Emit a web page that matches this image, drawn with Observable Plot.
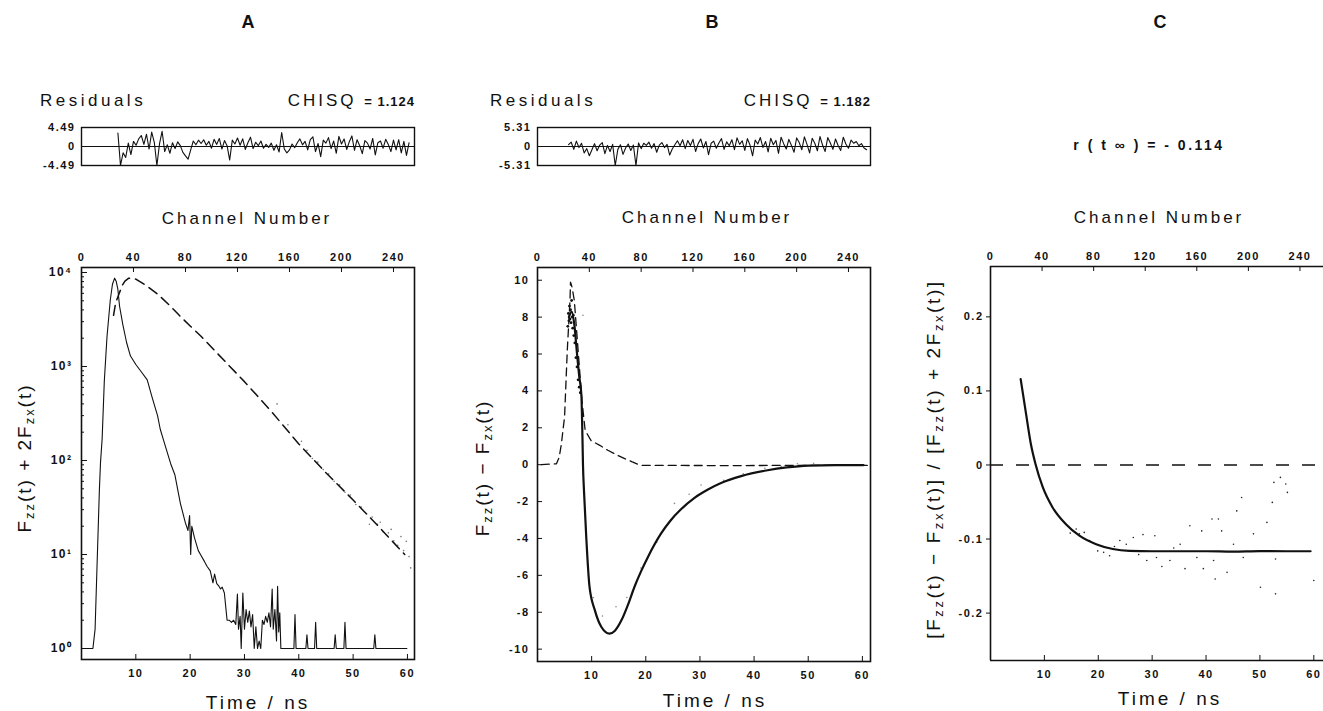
<!DOCTYPE html>
<html><head><meta charset="utf-8">
<script src="https://cdn.jsdelivr.net/npm/d3@7"></script>
<script src="https://cdn.jsdelivr.net/npm/@observablehq/plot@0.6"></script>
<style>
body{margin:0;background:#fff;}
#fig{position:relative;width:1323px;height:711px;overflow:hidden;font-family:"Liberation Sans",Arial,Helvetica,sans-serif;color:#111;background:#fff;}
sub{font-size:0.68em;vertical-align:-0.3em;line-height:0;}
</style></head>
<body><div id="fig"></div>
<script>
// ---------- data ----------
const panelTitles = ["A", "B", "C"];
const chisqA = "1.124", chisqB = "1.182";
const rInf = "- 0.114";
const timeTicks = [10, 20, 30, 40, 50, 60];
const channelTicks = [0, 40, 80, 120, 160, 200, 240];
const NS_PER_CHANNEL = 0.2393;
const logTicks = [1, 10, 100, 1000, 10000];
const logTickLabels = ["10⁰", "10¹", "10²", "10³", "10⁴"];
const logMinorMult = [2, 3, 4, 5, 6, 7, 8, 9];
const bTicks = [-10, -8, -6, -4, -2, 0, 2, 4, 6, 8, 10];
const cTicks = [-0.2, -0.1, 0, 0.1, 0.2];
const resTicksA = [-4.49, 0, 4.49];
const resTicksB = [-5.31, 0, 5.31];

// Panel A: lamp profile (solid) [time ns, counts]
const aLamp = [[0.2,1],[2.1,1],[2.5,1.6],[2.9,9],[3.3,50],[3.5,95],[3.8,170],[4.2,700],[4.7,2100],[5.3,5100],[5.7,7500],[6.1,8700],[6.4,8000],[6.7,6600],[7.0,4400],[7.6,2800],[8.3,1800],[9.0,1300],[10.0,1050],[11.0,880],[12.1,720],[13.0,470],[14.0,300],[14.5,215],[15.1,165],[16.4,93],[17.2,70],[18.2,35],[19.1,22],[19.6,18],[19.9,26],[20.1,10],[20.3,20],[20.8,15],[21.5,11],[21.9,10],[22.6,8.5],[23.1,7.5],[23.7,6.7],[24.2,5.0],[24.5,6.2],[24.9,4.9],[25.3,4.6],[25.6,4.3],[25.9,4.5],[26.3,3.9],[26.8,2.0],[27.2,2.0],[27.6,1.9],[28.0,2.0],[28.4,1.8],[28.7,3.8],[28.9,1.6],[29.2,2.2],[29.4,1.0],[29.7,3.9],[30.0,1.6],[30.3,2.6],[30.6,1.9],[30.9,2.5],[31.2,1.7],[31.5,2.3],[31.8,1.0],[32.1,1.7],[32.4,1.0],[32.7,1.2],[33.0,1.0],[33.3,2.0],[33.6,1.8],[33.9,2.2],[34.2,1.9],[34.5,2.4],[34.8,1.7],[35.1,4.3],[35.3,1.6],[35.6,2.6],[35.9,1.2],[36.1,4.6],[36.3,1.5],[36.5,2.4],[36.7,1.0],[39.1,1],[39.3,2.3],[39.5,1],[41.3,1],[41.5,1.4],[41.7,1],[42.9,1],[43.1,1.9],[43.3,1],[46.5,1],[46.7,1.4],[46.9,1],[48.3,1],[48.5,1.9],[48.7,1],[53.8,1],[54.0,1.4],[54.2,1],[59.9,1]];
// Panel A: total fluorescence fit (dashed)
const aFit = [[5.9,3500],[6.3,4800],[6.9,5900],[7.5,7300],[8.0,8100],[8.7,8700],[10.0,8500],[12.0,7200],[14.0,5900],[16.0,4600],[18.0,3500],[20.0,2700],[22.0,2100],[25.0,1380],[30.0,690],[35.0,330],[40.0,150],[45.0,74],[50.0,38],[55.0,19],[59.5,10]];
// Panel A: measured points on the tail
const aDots = [[40.5,160],[41.5,128],[42.5,105],[43.5,96],[44.5,80],[45.5,72],[46.5,60],[47.5,55],[48.5,46],[49.5,43],[50.5,34],[51.5,32],[52.5,27],[53.5,25],[54.5,21],[55.5,17.5],[56.5,17],[57.5,14],[58.2,12.5],[58.8,15.5],[59.3,11],[59.8,13.8],[60.3,9.5],[60.6,7.2],[57,18.5],[55,22],[53,21],[36,400],[38,240]];

// Residuals (channel start, step, values)
const resAStart = 28, resAStep = 2;
const resAValues = [3.2,-4.49,-1.5,-2.6,0.8,-1.9,1.2,0.3,1.8,2.6,0.5,2.9,-0.6,3.4,1.0,-4.49,0.6,3.6,-1.2,0.4,-1.6,0.9,-0.5,1.1,0.2,-1.4,-2.2,-3.0,-0.8,1.3,0.4,1.5,0.7,1.6,0.3,1.2,-0.4,1.7,0.5,1.9,-0.6,1.4,0.2,-3.2,1.5,0.6,2.0,0.3,1.8,-0.7,0.9,2.2,-0.5,1.0,0.2,1.3,-0.4,0.5,-0.2,0.8,-0.9,0.4,-1.3,3.3,-0.6,-1.5,-0.8,0.6,-0.3,0.9,1.8,0.4,1.2,-0.8,1.6,2.3,-1.2,0.7,-2.4,1.5,0.8,2.1,-0.5,1.3,-1.6,2.4,0.6,1.8,-0.7,1.1,2.5,-0.9,1.6,0.2,-1.7,1.4,0.8,-0.6,1.9,-2.0,0.9,1.3,-0.4,1.7,0.5,-1.2,1.5,-0.8,1.6,-1.5,1.2,-2.1,0.9];
const resBStart = 24, resBStep = 2;
const resBValues = [0.5,1.2,-0.8,1.5,-0.3,0.9,-1.8,-0.6,-2.6,-0.9,0.8,-1.2,0.4,1.1,-2.0,0.3,-1.4,0.6,-5.31,-0.8,0.5,-2.2,-0.4,0.7,-1.1,0.4,-5.31,1.0,-0.6,0.9,0.3,1.2,-0.5,0.8,-1.6,0.4,1.1,-0.3,0.6,-2.4,-0.7,0.5,1.6,0.2,1.9,-0.6,1.7,0.3,2.0,-1.4,0.8,2.1,-0.4,1.4,-2.3,0.9,1.5,-0.5,1.0,2.2,-0.8,1.3,0.2,1.9,-0.9,2.4,0.6,1.6,-1.1,2.2,0.4,-2.6,1.8,0.7,2.5,-0.3,1.4,-1.5,2.3,0.5,1.7,-1.9,2.6,0.8,-0.7,2.0,0.3,-1.6,2.4,1.1,-0.9,2.7,0.6,-1.8,2.3,0.9,-1.2,2.8,0.4,-1.4,2.5,1.0,-0.8,2.1,0.3,-1.1,2.6,0.7,-0.5,1.8,0.9,1.4,0.2,0.8,-0.4,-0.9];

// Panel B: lamp-shaped difference (dashed) and fit (solid)
const bDashed = [[0.7,0],[3.5,0.05],[4.0,0.4],[4.4,1.1],[5.0,2.6],[5.5,6.2],[6.0,8.9],[6.1,9.9],[6.4,9.6],[6.8,8.9],[7.5,6.2],[8.2,3.5],[8.8,1.86],[9.9,1.3],[11.5,1.05],[13.0,0.78],[14.5,0.55],[16.1,0.33],[17.5,0.15],[19.1,-0.04],[25,-0.04],[35,-0.05],[45,-0.04],[60.9,-0.04]];
const bFit = [[5.8,8.0],[6.3,8.3],[6.8,7.6],[7.3,6.0],[7.7,4.8],[8.1,3.8],[8.3,1.5],[8.4,0.0],[8.6,-1.5],[9.0,-3.9],[9.6,-6.6],[10.6,-7.9],[11.8,-8.8],[13.3,-9.16],[14.3,-9.0],[15.5,-8.44],[16.7,-7.6],[17.9,-6.63],[19.1,-5.8],[20.4,-5.0],[22.8,-3.74],[24.5,-3.05],[26.5,-2.42],[29.0,-1.80],[31.4,-1.36],[34.0,-0.98],[37.6,-0.62],[42.5,-0.30],[46,-0.15],[50,-0.05],[55,-0.02],[60.2,-0.02]];
const bPeakDots = [[5.6,7.5],[5.7,8.2],[5.8,7.8],[5.9,8.6],[6.0,7.9],[6.1,8.4],[6.2,7.7],[6.3,8.9],[6.4,8.0],[6.5,7.4],[6.6,8.1],[6.7,7.0],[6.9,6.6],[7.1,5.8],[7.3,5.3],[7.5,4.6],[7.7,4.2],[7.9,3.9]];
const bDots = [[8.4,8.1],[10.3,-7.2],[14.5,-7.7],[19.1,-5.6],[25.3,-2.1],[30.2,-1.1],[34.4,-0.85],[12,-8.2],[16.5,-7.2],[22,-4.2],[28,-1.6],[38,-0.5],[42,-0.2],[45,-0.1],[48,0.05],[51,0.08]];

// Panel C: anisotropy fit (solid) and data points
const cFit = [[5.6,0.116],[6.6,0.069],[7.5,0.028],[8.4,0.0],[9.7,-0.030],[11.5,-0.057],[14.0,-0.080],[16.5,-0.0955],[19.6,-0.107],[22.7,-0.1135],[25.8,-0.116],[30,-0.1165],[40,-0.1165],[45,-0.117],[50,-0.1163],[55,-0.1165],[59.4,-0.1165]];
const cDots = [[15.9,-0.0865],[16.5,-0.093],[17.4,-0.091],[18.4,-0.102],[19.9,-0.116],[22.1,-0.1225],[24.0,-0.102],[25.2,-0.107],[26.5,-0.098],[28.3,-0.094],[29.0,-0.129],[30.5,-0.0955],[30.8,-0.125],[31.8,-0.137],[33.3,-0.129],[35.2,-0.107],[36.1,-0.140],[37.0,-0.082],[38.3,-0.125],[39.2,-0.089],[39.5,-0.140],[41.1,-0.073],[41.4,-0.129],[41.7,-0.154],[42.3,-0.073],[42.9,-0.089],[43.9,-0.145],[45.1,-0.107],[45.7,-0.062],[46.6,-0.044],[46.9,-0.125],[48.8,-0.093],[50.1,-0.165],[51.3,-0.0775],[52.3,-0.0505],[52.6,-0.0235],[52.9,-0.127],[52.9,-0.174],[53.8,-0.0168],[54.8,-0.0257],[55.1,-0.037],[60.0,-0.156],[14.8,-0.092],[21,-0.118],[23,-0.110],[27.5,-0.121],[34,-0.112]];

// ---------- helpers ----------
const fig = document.getElementById("fig");
const P = d => d[0], V = d => d[1];
function txt(html, x, y, anchor, css) {
  const d = document.createElement("div");
  d.innerHTML = html;
  const tx = anchor === "start" ? "0" : anchor === "end" ? "-100%" : "-50%";
  d.style.cssText = `position:absolute;left:${x}px;top:${y}px;transform:translate(${tx},-50%);white-space:nowrap;line-height:1;${css || ""}`;
  fig.appendChild(d);
}
function vtxt(html, x, y, css) {
  const d = document.createElement("div");
  d.innerHTML = html;
  d.style.cssText = `position:absolute;left:${x}px;top:${y}px;transform:translate(-50%,-50%) rotate(-90deg);white-space:nowrap;line-height:1;${css || ""}`;
  fig.appendChild(d);
}
function place(el, left, top) {
  el.style.position = "absolute"; el.style.left = left + "px"; el.style.top = top + "px";
  fig.appendChild(el);
}
const style = {fontFamily: '"Liberation Sans", Arial, sans-serif', fontSize: "11px", fontWeight: "bold", letterSpacing: "1.5px", color: "#111", background: "none", overflow: "visible"};
const NS = NS_PER_CHANNEL;
const chFmt = d => String(Math.round(d / NS));

// ---------- residual panels ----------
function residual(values, start, step, ticks, left, mL, mR, xMax) {
  const data = values.map((v, i) => ({c: start + i * step, v}));
  const lim = ticks[2];
  return place(Plot.plot({
    width: 440, height: 70, marginLeft: mL, marginRight: mR, marginTop: 17, marginBottom: 15,
    style,
    x: {domain: [0, xMax / NS], label: null, axis: null},
    y: {domain: [-lim, lim], label: null},
    marks: [
      Plot.ruleY([0], {stroke: "#111", strokeWidth: 1.2}),
      Plot.line(data, {x: "c", y: "v", stroke: "#111", strokeWidth: 1.1}),
      Plot.frame({stroke: "#111", strokeWidth: 1.4}),
      Plot.axisY(ticks, {anchor: "left", tickSize: 0, tickPadding: 6, label: null,
        tickFormat: d => d === 0 ? "0" : (d < 0 ? "-" + Math.abs(d).toFixed(2) : d.toFixed(2))})
    ]
  }), left, 110);
}
residual(resAValues, resAStart, resAStep, resTicksA, 0, 81, 26, 61.3);
residual(resBValues, resBStart, resBStep, resTicksB, 440, 97, 10, 61.5);

// ---------- Panel A ----------
{
  const W = 440, H = 481, mL = 81, mR = 26, mT = 37, mB = 52;
  const pw = W - mL - mR, ph = H - mT - mB;
  const minor = logTicks.slice(0, 4).flatMap(b => logMinorMult.map(m => m * b));
  place(Plot.plot({
    width: W, height: H, marginLeft: mL, marginRight: mR, marginTop: mT, marginBottom: mB,
    style,
    x: {domain: [0, 61.3], label: null},
    y: {type: "log", domain: [0.764, 11300], label: null},
    marks: [
      Plot.dot(aDots, {x: P, y: V, r: 0.8, fill: "#777"}),
      Plot.line(aLamp, {x: P, y: V, stroke: "#111", strokeWidth: 1.1}),
      Plot.line(aFit, {x: P, y: V, stroke: "#111", strokeWidth: 1.5, strokeDasharray: "10,6"}),
      Plot.frame({stroke: "#111", strokeWidth: 1.6}),
      Plot.tickX(timeTicks, {insetTop: ph - 5, stroke: "#111"}),
      Plot.tickX(channelTicks, {x: c => c * NS, insetBottom: ph - 5, stroke: "#111"}),
      Plot.tickY(logTicks, {insetRight: pw - 6, stroke: "#111"}),
      Plot.tickY(minor, {insetRight: pw - 3, stroke: "#111"}),
      Plot.axisX(timeTicks, {anchor: "bottom", tickSize: 0, tickPadding: 10, label: null}),
      Plot.axisX(channelTicks.map(c => c * NS), {anchor: "top", tickSize: 0, tickPadding: 7, label: null, tickFormat: chFmt}),
      Plot.axisY(logTicks, {anchor: "left", tickSize: 0, tickPadding: 9, label: null, fontSize: 12,
        tickFormat: d => logTickLabels[Math.round(Math.log10(d))]})
    ]
  }), 0, 230);
}

// ---------- Panel B ----------
{
  const W = 440, H = 481, mL = 97, mR = 10, mT = 37, mB = 50;
  const pw = W - mL - mR, ph = H - mT - mB;
  place(Plot.plot({
    width: W, height: H, marginLeft: mL, marginRight: mR, marginTop: mT, marginBottom: mB,
    style,
    x: {domain: [0, 61.5], label: null},
    y: {domain: [-10.67, 10.69], label: null},
    marks: [
      Plot.dot(bDots, {x: P, y: V, r: 0.8, fill: "#888"}),
      Plot.line(bDashed, {x: P, y: V, stroke: "#111", strokeWidth: 1.3, strokeDasharray: "8,5"}),
      Plot.dot(bPeakDots, {x: P, y: V, r: 1.4, fill: "#111"}),
      Plot.line(bFit, {x: P, y: V, stroke: "#111", strokeWidth: 2.2, curve: "monotone-x"}),
      Plot.frame({stroke: "#111", strokeWidth: 1.6}),
      Plot.tickX(timeTicks, {insetTop: ph - 5, stroke: "#111"}),
      Plot.tickX(channelTicks, {x: c => c * NS, insetBottom: ph - 5, stroke: "#111"}),
      Plot.tickY(bTicks, {insetRight: pw - 5, stroke: "#111"}),
      Plot.axisX(timeTicks, {anchor: "bottom", tickSize: 0, tickPadding: 10, label: null}),
      Plot.axisX(channelTicks.map(c => c * NS), {anchor: "top", tickSize: 0, tickPadding: 7, label: null, tickFormat: chFmt}),
      Plot.axisY(bTicks, {anchor: "left", tickSize: 0, tickPadding: 8, label: null,
        tickFormat: d => d < 0 ? "-" + Math.abs(d) : String(d)})
    ]
  }), 440, 230);
}

// ---------- Panel C ----------
{
  const W = 443, H = 481, mL = 110, mR = 0, mT = 36, mB = 51;
  const pw = W - mL - mR, ph = H - mT - mB;
  const yDom = [-0.264, 0.268];
  place(Plot.plot({
    width: W, height: H, marginLeft: mL, marginRight: mR, marginTop: mT, marginBottom: mB,
    style,
    x: {domain: [0, 61.8], label: null},
    y: {domain: yDom, label: null},
    marks: [
      Plot.ruleY([0], {stroke: "#111", strokeWidth: 1.6, strokeDasharray: "13,13"}),
      Plot.dot(cDots, {x: P, y: V, r: 0.8, fill: "#222"}),
      Plot.line(cFit, {x: P, y: V, stroke: "#111", strokeWidth: 2.2, curve: "monotone-x"}),
      Plot.ruleX([0], {stroke: "#111", strokeWidth: 1.6}),
      Plot.ruleY(yDom, {stroke: "#111", strokeWidth: 1.6}),
      Plot.tickX(timeTicks, {insetTop: ph - 5, stroke: "#111"}),
      Plot.tickX(channelTicks, {x: c => c * NS, insetBottom: ph - 5, stroke: "#111"}),
      Plot.axisX(timeTicks, {anchor: "bottom", tickSize: 0, tickPadding: 10, label: null}),
      Plot.axisX(channelTicks.map(c => c * NS), {anchor: "top", tickSize: 0, tickPadding: 7, label: null, tickFormat: chFmt}),
      Plot.axisY(cTicks, {anchor: "left", tickSize: 4, tickPadding: 3, label: null,
        tickFormat: d => d === 0 ? "0" : d.toFixed(1)})
    ]
  }), 880, 230);
}

// ---------- texts ----------
const titleCss = "font-size:18px;font-weight:bold;";
txt(panelTitles[0], 248, 22, "middle", titleCss);
txt(panelTitles[1], 712, 22, "middle", titleCss);
txt(panelTitles[2], 1160, 22, "middle", titleCss);

const labCss = "font-size:17px;letter-spacing:3.5px;";
txt("Residuals", 40, 100, "start", labCss);
txt("Residuals", 490, 100, "start", labCss);
txt(`CHISQ <b style="font-size:13px;letter-spacing:1px">= ${chisqA}</b>`, 415, 100, "end", "font-size:17px;letter-spacing:3px;");
txt(`CHISQ <b style="font-size:13px;letter-spacing:1px">= ${chisqB}</b>`, 871, 100, "end", "font-size:17px;letter-spacing:3px;");
txt(`r ( t ∞ ) = <b>${rInf}</b>`, 1149, 145, "middle", "font-size:14px;letter-spacing:2.5px;font-weight:600;");

const chCss = "font-size:17px;letter-spacing:3px;";
txt("Channel Number", 247, 218, "middle", chCss);
txt("Channel Number", 707, 217, "middle", chCss);
txt("Channel Number", 1159, 217, "middle", chCss);

const tCss = "font-size:19px;letter-spacing:3px;";
txt("Time / ns", 258, 702, "middle", tCss);
txt("Time / ns", 715, 700, "middle", tCss);
txt("Time / ns", 1170, 698, "middle", tCss);

const yCss = "font-size:19px;letter-spacing:2px;";
vtxt("F<sub>zz</sub>(t) + 2F<sub>zx</sub>(t)", 24, 458, yCss);
vtxt("F<sub>zz</sub>(t) − F<sub>zx</sub>(t)", 482, 468, yCss);
vtxt("[F<sub>zz</sub>(t) − F<sub>zx</sub>(t)] / [F<sub>zz</sub>(t) + 2F<sub>zx</sub>(t)]", 933, 459, "font-size:19px;letter-spacing:2.6px;");
</script>
</body></html>
